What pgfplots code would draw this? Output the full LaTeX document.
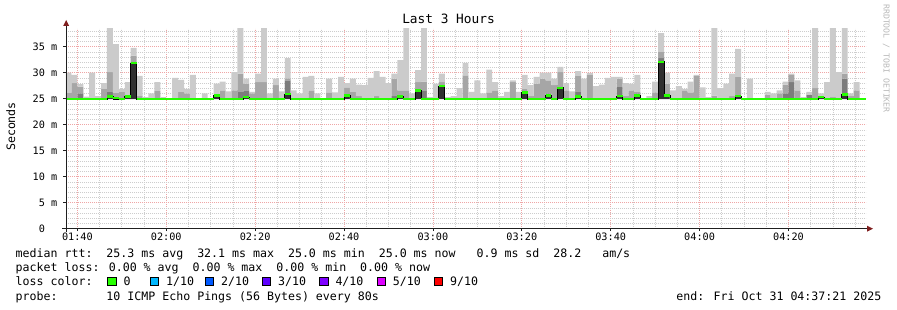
\documentclass[border=0pt]{standalone}
\usepackage{fontspec}
\setmainfont{DejaVu Sans Mono}
\newfontfamily\rrdmono{DejaVu Sans Mono}
\usepackage{pgfplots}
\usepackage{pgfplotstable}
\pgfplotsset{compat=1.18}

\definecolor{lossA}{HTML}{26FF00}
\definecolor{lossB}{HTML}{00B8FF}
\definecolor{lossC}{HTML}{0059FF}
\definecolor{lossD}{HTML}{5E00FF}
\definecolor{lossE}{HTML}{7E00FF}
\definecolor{lossF}{HTML}{DD00FF}
\definecolor{lossG}{HTML}{FF0000}
\definecolor{smokeA}{HTML}{CBCBCB}
\definecolor{smokeB}{HTML}{A6A6A6}
\definecolor{smokeC}{HTML}{7C7C7C}
\definecolor{smokeD}{HTML}{303030}
\definecolor{axisc}{HTML}{1F1F1F}
\definecolor{arrowc}{HTML}{801F1F}
\definecolor{gridc}{HTML}{CDCDCD}
\definecolor{mgridc}{HTML}{EFA6A6}
\definecolor{wmark}{HTML}{B8B8B8}

\newcommand\tickfont{\rrdmono\fontsize{10.2bp}{12bp}\selectfont}
\newcommand\legfont{\rrdmono\fontsize{11.6bp}{14bp}\selectfont}
\newcommand\titfont{\rrdmono\fontsize{12.8bp}{15bp}\selectfont}
\newcommand\wmfont{\rrdmono\fontsize{8.2bp}{10bp}\selectfont}

% k = 80 s step index from 01:40; lo = fastest ping; med = median;
% dk/d3/md/tp = tops of the smoke layers (ms), dark to light
\pgfplotstableread{
k lo med dk d3 md tp
-2 24.9 25.0 24.9 24.9 26.1 30.0
-1 24.9 25.0 24.9 24.9 28.0 29.6
0 24.9 25.0 24.9 26.0 27.3 27.8
1 24.9 25.0 24.9 24.9 24.9 25.4
2 24.9 25.0 24.9 24.9 24.9 30.0
3 24.9 25.0 24.9 24.9 24.9 25.5
4 24.9 25.0 24.9 24.9 26.9 28.0
5 24.9 25.4 25.4 26.3 30.1 40
6 24.9 25.2 24.9 24.9 26.1 35.5
7 24.9 25.0 24.9 24.9 26.3 26.9
8 24.9 25.4 25.4 25.4 25.4 28.2
9 24.9 31.8 31.8 31.8 33.3 34.75
10 24.9 25.0 24.9 24.9 25.5 29.4
11 24.9 25.0 24.9 24.9 24.9 25.3
12 24.9 25.0 24.9 24.9 24.9 26.0
13 24.9 25.0 24.9 24.9 26.5 28.2
14 24.9 25.0 24.9 24.9 24.9 25.3
15 24.9 25.0 24.9 24.9 24.9 25.1
16 24.9 25.0 24.9 24.9 24.9 29.0
17 24.9 25.0 24.9 24.9 26.3 28.6
18 24.9 25.0 24.9 24.9 26.0 26.9
19 24.9 25.0 24.9 24.9 24.9 29.6
20 24.9 25.0 24.9 24.9 24.9 25.1
21 24.9 25.0 24.9 24.9 24.9 26.0
22 24.9 25.0 24.9 24.9 24.9 25.1
23 24.9 25.6 25.6 25.6 25.6 27.9
24 24.9 25.0 24.9 24.9 26.6 28.3
25 24.9 25.0 24.9 24.9 24.9 26.4
26 24.9 25.0 24.9 24.9 26.6 30.1
27 24.9 25.0 24.9 26.3 29.8 40
28 24.9 25.3 25.3 26.6 27.9 28.85
29 24.9 25.0 24.9 24.9 26.0 26.3
30 24.9 25.0 24.9 24.9 28.2 29.8
31 24.9 25.0 24.9 24.9 28.2 40
32 24.9 25.0 24.9 24.9 24.9 26.0
33 24.9 25.0 24.9 24.9 27.6 28.85
34 24.9 25.0 24.9 24.9 24.9 26.4
35 24.9 25.9 25.9 28.5 28.9 32.8
36 24.9 25.0 24.9 24.9 24.9 26.6
37 24.9 25.0 24.9 24.9 24.9 26.0
38 24.9 25.0 24.9 24.9 24.9 29.2
39 24.9 25.0 24.9 24.9 26.6 29.4
40 24.9 25.0 24.9 24.9 24.9 26.0
41 24.9 25.0 24.9 24.9 24.9 25.1
42 24.9 25.0 24.9 24.9 26.2 28.85
43 24.9 25.0 24.9 24.9 24.9 26.2
44 24.9 25.0 24.9 24.9 24.9 29.2
45 24.9 25.6 25.6 25.6 27.2 28.0
46 24.9 25.0 24.9 24.9 26.3 28.85
47 24.9 25.0 24.9 24.9 25.5 27.7
48 24.9 25.0 24.9 24.9 24.9 27.6
49 24.9 25.0 24.9 24.9 24.9 29.0
50 24.9 25.0 24.9 24.9 25.5 30.3
51 24.9 25.0 24.9 24.9 24.9 29.2
52 24.9 25.0 24.9 24.9 24.9 28.0
53 24.9 25.0 24.9 25.5 28.85 29.8
54 24.9 25.4 25.4 25.4 26.6 32.4
55 24.9 25.0 24.9 24.9 26.6 40
56 24.9 25.0 24.9 24.9 24.9 26.0
57 24.9 26.6 26.6 26.6 28.2 30.5
58 24.9 25.0 24.9 26.6 28.3 40
59 24.9 25.0 24.9 24.9 24.9 25.3
60 24.9 25.0 24.9 24.9 24.9 27.9
61 24.9 27.4 27.4 27.4 28.2 29.8
62 24.9 25.0 24.9 24.9 24.9 25.3
63 24.9 25.0 24.9 24.9 24.9 25.5
64 24.9 25.0 24.9 24.9 24.9 27.05
65 24.9 25.0 24.9 24.9 29.5 31.9
66 24.9 25.0 24.9 24.9 24.9 26.3
67 24.9 25.0 24.9 24.9 24.9 28.5
68 24.9 25.0 24.9 24.9 24.9 26.0
69 24.9 25.0 24.9 24.9 26.2 30.6
70 24.9 25.0 24.9 24.9 26.6 28.2
71 24.9 25.0 24.9 24.9 24.9 25.5
72 24.9 25.0 24.9 24.9 24.9 26.3
73 24.9 25.0 24.9 24.9 28.2 28.5
74 24.9 25.0 24.9 24.9 24.9 26.3
75 24.9 26.2 26.2 26.2 26.9 29.6
76 24.9 25.0 24.9 24.9 25.5 27.6
77 24.9 25.0 24.9 24.9 27.9 29.2
78 24.9 25.0 24.9 24.9 28.85 30.0
79 24.9 25.6 25.6 26.0 28.5 30.0
80 24.9 25.0 24.9 24.9 27.6 28.85
81 24.9 27.1 27.1 27.1 30.1 31.1
82 24.9 25.0 24.9 24.9 26.6 28.0
83 24.9 25.0 24.9 24.9 24.9 26.4
84 24.9 25.4 25.4 26.3 29.4 30.3
85 24.9 25.0 24.9 24.9 24.9 28.85
86 24.9 25.0 24.9 24.9 29.6 29.95
87 24.9 25.0 24.9 24.9 24.9 27.4
88 24.9 25.0 24.9 24.9 24.9 27.7
89 24.9 25.0 24.9 24.9 24.9 29.0
90 24.9 25.0 24.9 24.9 24.9 29.2
91 24.9 25.5 25.5 27.25 28.85 29.2
92 24.9 25.0 24.9 24.9 25.5 28.0
93 24.9 25.0 24.9 24.9 26.6 27.9
94 24.9 25.6 25.6 26.0 26.3 29.6
95 24.9 25.0 24.9 24.9 24.9 25.1
96 24.9 25.0 24.9 24.9 24.9 25.5
97 24.9 25.0 24.9 24.9 26.2 28.3
98 24.9 32.1 32.1 32.8 34.0 37.6
99 24.9 25.6 25.6 25.6 27.9 30.0
100 24.9 25.0 24.9 24.9 24.9 26.6
101 24.9 25.0 24.9 24.9 24.9 27.4
102 24.9 25.0 24.9 24.9 26.6 26.9
103 24.9 25.0 24.9 24.9 26.2 28.3
104 24.9 25.0 24.9 24.9 29.4 29.6
105 24.9 25.0 24.9 24.9 24.9 27.2
106 24.9 25.0 24.9 24.9 24.9 25.3
107 24.9 25.0 24.9 24.9 25.6 40
108 24.9 25.0 24.9 24.9 24.9 27.05
109 24.9 25.0 24.9 24.9 24.9 27.9
110 24.9 25.0 24.9 24.9 25.5 29.8
111 24.9 25.5 25.5 25.5 29.2 34.6
112 24.9 25.0 24.9 24.9 24.9 25.1
113 24.9 25.0 24.9 24.9 24.9 28.85
114 24.9 25.0 24.9 24.9 24.9 25.1
115 24.9 25.0 24.9 24.9 24.9 25.1
116 24.9 25.0 24.9 24.9 25.8 26.3
117 24.9 25.0 24.9 24.9 24.9 26.0
118 24.9 25.0 24.9 24.9 26.0 26.6
119 24.9 25.0 24.9 26.0 27.7 28.3
120 24.9 25.0 24.9 28.2 29.6 29.8
121 24.9 25.0 24.9 24.9 26.6 28.5
122 24.9 25.0 24.9 24.9 24.9 25.3
123 24.9 25.0 24.9 25.8 25.8 26.3
124 24.9 25.0 24.9 24.9 27.05 40
125 24.9 25.3 25.3 25.3 25.3 26.0
126 24.9 25.0 24.9 24.9 24.9 28.2
127 24.9 25.0 24.9 24.9 25.3 40
128 24.9 25.0 24.9 24.9 24.9 30.1
129 24.9 25.8 25.8 28.85 29.8 40
130 24.9 25.0 24.9 24.9 25.5 26.0
131 24.9 25.0 24.9 24.9 26.6 28.2
132 24.9 25.0 24.9 24.9 24.9 25.1
133 24.9 25.0 24.9 24.9 24.9 25.1
}\smoke

\begin{document}
\begin{tikzpicture}
\path[use as bounding box] (0bp,0bp) rectangle (897bp,310bp);
\begin{axis}[
  at={(65.8bp,81.3bp)}, anchor=south west,
  scale only axis, width=800bp, height=200bp,
  xmin=-2.6, xmax=177.4, ymin=0, ymax=38.46,
  axis x line*=bottom, axis y line*=left,
  axis line style={draw=none},
  xtick={0,20,40,60,80,100,120,140,160},
  xticklabels={01:40,02:00,02:20,02:40,03:00,03:20,03:40,04:00,04:20},
  minor xtick={5,10,15,25,30,35,45,50,55,65,70,75,85,90,95,105,110,115,125,130,135,145,150,155,165,170,175},
  ytick={0,5,10,15,20,25,30,35},
  yticklabels={0\hphantom{xx},5 m,10 m,15 m,20 m,25 m,30 m,35 m},
  minor ytick={1,2,3,4,6,7,8,9,11,12,13,14,16,17,18,19,21,22,23,24,26,27,28,29,31,32,33,34,36,37,38},
  grid=both,
  major grid style={draw=mgridc, line width=0.75bp, dash pattern=on 1bp off 1bp},
  minor grid style={draw=gridc, line width=0.7bp, dash pattern=on 1bp off 1bp},
  tick align=outside, major tick length=2.5bp, minor tick length=0bp,
  tick style={draw=axisc, line width=0.8bp},
  ticklabel style={font=\tickfont, inner sep=0pt},
  xticklabel style={anchor=center, yshift=-5.6bp},
  yticklabel style={anchor=east, xshift=-5.8bp},
]
\addplot[const plot, draw=none, stack plots=y, forget plot] table[x expr=\thisrow{k}*4/3, y=lo] {\smoke};
\addplot[const plot, fill=smokeD, draw=none, stack plots=y] table[x expr=\thisrow{k}*4/3, y expr=\thisrow{dk}-\thisrow{lo}] {\smoke} \closedcycle;
\addplot[const plot, fill=smokeC, draw=none, stack plots=y] table[x expr=\thisrow{k}*4/3, y expr=\thisrow{d3}-\thisrow{dk}] {\smoke} \closedcycle;
\addplot[const plot, fill=smokeB, draw=none, stack plots=y] table[x expr=\thisrow{k}*4/3, y expr=\thisrow{md}-\thisrow{d3}] {\smoke} \closedcycle;
\addplot[const plot, fill=smokeA, draw=none, stack plots=y] table[x expr=\thisrow{k}*4/3, y expr=\thisrow{tp}-\thisrow{md}] {\smoke} \closedcycle;
\addplot[const plot, draw=black, line width=0.8bp, stack plots=false] table[x expr=\thisrow{k}*4/3, y=dk] {\smoke};
\addplot[jump mark left, draw=lossA, line width=2.3bp, stack plots=false] table[x expr=\thisrow{k}*4/3, y=med] {\smoke};
\end{axis}
% axes and arrows
\draw[draw=axisc, line width=0.8bp] (62bp,81.3bp) -- (868bp,81.3bp);
\fill[arrowc] (867bp,78.3bp) -- (873bp,81.3bp) -- (867bp,84.3bp) -- cycle;
\draw[draw=axisc, line width=0.8bp] (66.2bp,77.5bp) -- (66.2bp,285bp);
\fill[arrowc] (63.2bp,284bp) -- (66.2bp,290bp) -- (69.2bp,284bp) -- cycle;
% title, axis label, watermark
\node[anchor=base, inner sep=0pt, font=\titfont] at (448.5bp,286bp) {Last 3 Hours};
\node[anchor=base, rotate=90, inner sep=0pt, font=\legfont] at (15bp,183.5bp) {Seconds};
\node[anchor=base, rotate=-90, inner sep=0pt, font=\wmfont, text=wmark] at (883.5bp,251.5bp) {RRDTOOL / TOBI OETIKER};
% legend
\node[anchor=base west, inner sep=0pt, font=\legfont] at (15.5bp,52.7bp) {median rtt:~~25.3 ms avg~~32.1 ms max~~25.0 ms min~~25.0 ms now~~~0.9 ms sd~~28.2~~~am/s};
\node[anchor=base west, inner sep=0pt, font=\legfont] at (15.5bp,38.3bp) {packet loss: 0.00 \% avg~~0.00 \% max~~0.00 \% min~~0.00 \% now};
\node[anchor=base west, inner sep=0pt, font=\legfont] at (15.5bp,24.3bp) {loss color:};
\node[anchor=base west, inner sep=0pt, font=\legfont] at (15.5bp,10bp) {probe:~~~~~~~10 ICMP Echo Pings (56 Bytes) every 80s};
\node[anchor=base east, inner sep=0pt, font=\legfont] at (881.5bp,10bp) {end: Fri Oct 31 04:37:21 2025};
% loss colour boxes
\foreach \bx/\col/\lab in {107.3/lossA/0, 150/lossB/1\slash 10, 205/lossC/2\slash 10, 262/lossD/3\slash 10, 319.3/lossE/4\slash 10, 376.7/lossF/5\slash 10, 434/lossG/9\slash 10}{
  \filldraw[fill=\col, draw=black, line width=0.8bp] (\bx bp+0.4bp,24.3bp) rectangle (\bx bp+8.6bp,32.3bp);
  \node[anchor=base west, inner sep=0pt, font=\legfont] at (\bx bp+16bp,24.3bp) {\lab};
}
\end{tikzpicture}
\end{document}
